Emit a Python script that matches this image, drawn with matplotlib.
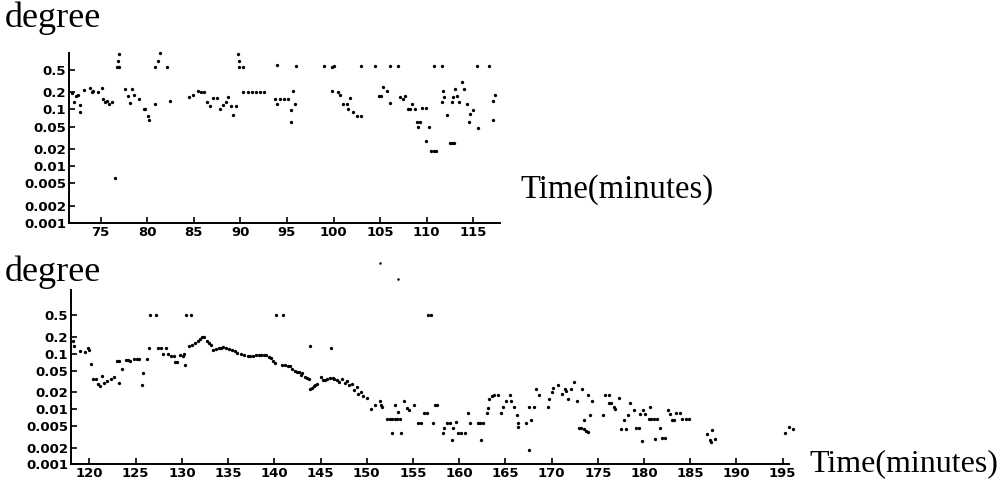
import matplotlib.pyplot as plt

# upper panel: time (minutes) and degree
t1 = [71.9, 72.1, 72.3, 72.6, 72.8, 72.8, 73.2, 73.9, 74.1, 74.2, 74.7, 75.1, 75.3, 75.5,
      75.7, 75.9, 76.2, 76.5, 76.7, 77.0, 77.0, 76.9, 77.6, 77.9, 78.1, 78.4, 78.6, 79.1,
      79.6, 79.8, 80.1, 80.2, 80.8, 80.8, 81.1, 81.4, 82.1, 82.4, 84.5, 84.9, 85.5, 85.8,
      86.1, 86.4, 86.7, 87.1, 87.5, 87.8, 88.1, 88.4, 88.7, 89.0, 89.2, 89.5, 89.7, 89.8,
      89.9, 90.3, 90.3, 90.8, 91.2, 91.7, 92.1, 92.5, 93.7, 93.9, 93.9, 94.2, 94.7, 95.1,
      95.4, 95.4, 95.6, 95.9, 96.0, 99.0, 99.8, 100.0, 99.8, 100.5, 100.7, 101.0, 101.4,
      101.5, 101.8, 102.1, 102.5, 102.9, 102.9, 104.5, 104.9, 105.1, 105.3, 105.7, 106.1,
      106.1, 106.9, 107.1, 107.5, 107.7, 108.0, 108.2, 108.4, 108.7, 109.0, 109.3, 109.1,
      109.5, 109.9, 109.9, 110.2, 110.5, 110.8, 111.0, 110.8, 111.6, 111.6, 111.7, 111.9,
      112.2, 112.5, 112.7, 112.9, 112.7, 112.8, 113.0, 113.2, 113.5, 113.8, 114.0, 114.3,
      114.5, 114.7, 115.0, 115.4, 115.5, 116.7, 117.1, 117.1, 117.3]
d1 = [0.198, 0.135, 0.17, 0.18, 0.118, 0.09, 0.22, 0.24, 0.2, 0.21, 0.2, 0.235, 0.155, 0.137,
      0.14, 0.125, 0.135, 0.0063, 0.565, 0.565, 0.93, 0.72, 0.23, 0.17, 0.13, 0.23, 0.177, 0.155,
      0.103, 0.1, 0.078, 0.064, 0.125, 0.565, 0.70, 0.97, 0.565, 0.14, 0.165, 0.177, 0.21, 0.205,
      0.2, 0.135, 0.115, 0.16, 0.16, 0.103, 0.12, 0.135, 0.165, 0.115, 0.08, 0.115, 0.93, 0.72,
      0.565, 0.565, 0.203, 0.203, 0.203, 0.203, 0.203, 0.203, 0.155, 0.125, 0.6, 0.155, 0.155, 0.155,
      0.097, 0.061, 0.21, 0.125, 0.59, 0.59, 0.57, 0.59, 0.21, 0.2, 0.18, 0.125, 0.125,
      0.103, 0.16, 0.09, 0.078, 0.078, 0.59, 0.59, 0.17, 0.17, 0.25, 0.21, 0.13,
      0.59, 0.59, 0.165, 0.15, 0.17, 0.1, 0.1, 0.125, 0.1, 0.061, 0.061, 0.05,
      0.105, 0.105, 0.028, 0.05, 0.0186, 0.0186, 0.0186, 0.59, 0.59, 0.137, 0.21, 0.165,
      0.08, 0.026, 0.026, 0.026, 0.135, 0.165, 0.23, 0.17, 0.137, 0.3, 0.23, 0.125,
      0.061, 0.084, 0.097, 0.59, 0.047, 0.59, 0.066, 0.14, 0.18]

# lower panel
t2 = [118.2, 118.3, 119.0, 119.5, 119.8, 120.0, 120.2, 120.4, 120.7, 120.9, 121.1, 121.3,
      121.6, 121.9, 122.3, 122.7, 123.0, 123.2, 123.2, 123.5, 123.9, 124.2, 124.4, 124.8,
      125.1, 125.4, 125.7, 125.8, 126.2, 126.4, 126.6, 127.2, 127.4, 127.7, 128.0, 128.3,
      128.5, 128.8, 129.1, 129.2, 129.5, 129.8, 130.1, 130.3, 130.4, 131.0, 130.2, 130.8,
      131.1, 131.4, 131.7, 132.0, 132.2, 132.4, 132.7, 132.9, 133.1, 133.4, 133.7, 134.0,
      134.2, 134.4, 134.8, 135.1, 135.4, 135.7, 136.0, 136.4, 136.7, 137.1, 137.4, 137.7,
      138.0, 138.3, 138.6, 138.9, 139.1, 139.4, 139.6, 139.9, 140.1, 140.2, 140.9, 140.8,
      141.2, 141.5, 141.7, 141.9, 142.2, 142.4, 142.7, 142.9, 143.0, 143.3, 143.5, 143.7,
      143.9, 143.9, 144.1, 144.3, 144.4, 144.6, 145.0, 145.3, 145.5, 145.7, 146.0, 146.3,
      146.5, 146.8, 147.0, 147.3, 147.6, 147.9, 146.1, 148.1, 148.4, 148.6, 148.9, 149.1,
      149.4, 149.6, 150.0, 150.5, 150.9, 151.4, 151.5, 151.6, 152.2, 152.5, 152.7, 153.0,
      153.3, 153.6, 152.7, 153.0, 153.4, 153.7, 154.0, 154.3, 154.6, 155.1, 155.5, 155.9,
      156.2, 156.5, 156.6, 156.9, 157.2, 157.4, 157.6, 158.2, 158.4, 158.7, 159.0, 159.3,
      159.2, 159.6, 159.9, 160.2, 160.6, 161.0, 161.2, 162.0, 162.3, 162.6, 162.4, 163.0,
      163.1, 163.2, 163.5, 163.8, 164.2, 164.5, 164.7, 165.1, 165.5, 165.6, 165.9, 166.2,
      166.4, 166.4, 167.2, 167.5, 167.6, 167.8, 168.1, 168.3, 168.6, 169.6, 169.7, 170.0,
      170.2, 170.7, 171.1, 171.4, 171.6, 171.8, 172.1, 172.4, 172.7, 173.0, 173.2, 173.5,
      173.7, 173.9, 173.3, 173.5, 173.9, 174.2, 174.4, 175.6, 175.8, 176.2, 176.2, 176.4,
      176.7, 176.9, 177.3, 177.5, 178.0, 177.8, 178.3, 178.5, 178.9, 179.1, 179.4, 179.6,
      179.8, 179.9, 180.1, 180.6, 180.5, 180.8, 181.1, 181.4, 181.2, 181.7, 181.9, 182.3,
      182.6, 182.8, 183.0, 183.2, 183.5, 183.9, 184.1, 184.5, 184.9, 186.8, 187.4, 187.1,
      187.2, 187.7, 195.2, 195.7, 196.1]
d2 = [0.17, 0.14, 0.115, 0.11, 0.13, 0.12, 0.065, 0.035, 0.035, 0.028, 0.026, 0.04,
      0.03, 0.032, 0.035, 0.038, 0.075, 0.075, 0.03, 0.053, 0.077, 0.077, 0.075, 0.08,
      0.08, 0.08, 0.027, 0.045, 0.08, 0.128, 0.5, 0.5, 0.128, 0.128, 0.101, 0.13,
      0.101, 0.092, 0.092, 0.07, 0.07, 0.095, 0.092, 0.062, 0.5, 0.5, 0.1, 0.14,
      0.145, 0.155, 0.175, 0.188, 0.2, 0.2, 0.17, 0.155, 0.145, 0.12, 0.125, 0.127,
      0.13, 0.133, 0.127, 0.125, 0.12, 0.112, 0.105, 0.1, 0.095, 0.092, 0.092, 0.093,
      0.096, 0.097, 0.097, 0.095, 0.095, 0.088, 0.083, 0.075, 0.068, 0.5, 0.5, 0.062,
      0.062, 0.06, 0.06, 0.053, 0.05, 0.048, 0.048, 0.042, 0.045, 0.038, 0.036, 0.035,
      0.14, 0.023, 0.024, 0.026, 0.027, 0.029, 0.038, 0.034, 0.034, 0.035, 0.036, 0.036,
      0.035, 0.033, 0.031, 0.035, 0.03, 0.032, 0.13, 0.027, 0.029, 0.022, 0.025, 0.019,
      0.02, 0.017, 0.016, 0.01, 0.012, 0.014, 0.012, 0.011, 0.0065, 0.0065, 0.0065, 0.0065,
      0.0065, 0.0065, 0.0037, 0.012, 0.009, 0.0037, 0.014, 0.0105, 0.0098, 0.012, 0.0055, 0.0055,
      0.0085, 0.0085, 0.5, 0.5, 0.0055, 0.012, 0.012, 0.0037, 0.0045, 0.0055, 0.0055, 0.0045,
      0.0027, 0.0058, 0.0037, 0.0037, 0.0037, 0.0085, 0.0055, 0.0055, 0.0055, 0.0056, 0.0028, 0.0085,
      0.0105, 0.015, 0.017, 0.018, 0.018, 0.0085, 0.011, 0.014, 0.018, 0.014, 0.011, 0.0079,
      0.0055, 0.0047, 0.0055, 0.011, 0.0018, 0.0062, 0.011, 0.023, 0.018, 0.011, 0.015, 0.02,
      0.024, 0.027, 0.019, 0.023, 0.021, 0.015, 0.023, 0.031, 0.014, 0.0046, 0.0046, 0.0043,
      0.004, 0.0038, 0.023, 0.0064, 0.018, 0.0079, 0.014, 0.0079, 0.018, 0.018, 0.013, 0.013,
      0.011, 0.01, 0.016, 0.0044, 0.0044, 0.0062, 0.0079, 0.013, 0.0095, 0.0046, 0.0046, 0.008,
      0.0026, 0.0095, 0.008, 0.011, 0.0066, 0.0066, 0.0066, 0.0066, 0.0029, 0.0046, 0.003, 0.003,
      0.0095, 0.008, 0.0064, 0.0064, 0.0085, 0.0085, 0.0066, 0.0066, 0.0066, 0.0036, 0.0042, 0.0028,
      0.0025, 0.0029, 0.0037, 0.0048, 0.0044]

# two specks above the lower frame
stray_t = [151.4, 153.4]
stray_d = [4.4, 2.3]

yticks = [0.001, 0.002, 0.005, 0.01, 0.02, 0.05, 0.1, 0.2, 0.5]
ylabels = ["0.001", "0.002", "0.005", "0.01", "0.02", "0.05", "0.1", "0.2", "0.5"]

tickfont = ["Liberation Sans Narrow", "DejaVu Sans"]

fig = plt.figure(figsize=(10.03, 4.83), dpi=100)
ax1 = fig.add_axes([0.0688, 0.538, 0.430, 0.352])
ax2 = fig.add_axes([0.0708, 0.039, 0.716, 0.360])


def style(ax, xticks, xlim, ylim):
    ax.set_yscale("log")
    ax.set_xlim(*xlim)
    ax.set_ylim(*ylim)
    ax.set_yticks(yticks)
    ax.set_yticklabels(ylabels)
    ax.minorticks_off()
    ax.set_xticks(xticks)
    ax.set_xticklabels([str(x) for x in xticks])
    for s in ["top", "right"]:
        ax.spines[s].set_visible(False)
    for s in ["left", "bottom"]:
        ax.spines[s].set_linewidth(1.4)
    ax.tick_params(direction="in", length=4, width=1.2, pad=2)
    for lab in ax.get_xticklabels() + ax.get_yticklabels():
        lab.set_family(tickfont)
        lab.set_fontweight("bold")
        lab.set_fontsize(9.5)


ax1.plot(t1, d1, "o", color="black", ms=2.4, mec="none", clip_on=False)
style(ax1, list(range(75, 116, 5)), (71.6, 117.9), (0.001, 0.98))

ax2.plot(t2, d2, "o", color="black", ms=2.4, mec="none", clip_on=False)
ax2.plot(stray_t, stray_d, "o", color="black", ms=1.8, mec="none", clip_on=False)
style(ax2, list(range(120, 196, 5)), (118.0, 195.7), (0.001, 1.43))

serif = "Liberation Serif"
fig.text(5 / 1003, 1 - 27 / 483, "degree", family=serif, fontsize=26, va="baseline")
fig.text(5 / 1003, 1 - 281 / 483, "degree", family=serif, fontsize=26, va="baseline")
fig.text(520 / 1003, 1 - 198 / 483, "Time(minutes)", family=serif, fontsize=23.5, va="baseline")
fig.text(998 / 1003, 1 - 471 / 483, "Time(minutes)", family=serif, fontsize=23,
         va="baseline", ha="right")

fig.savefig("out.png", dpi=100)
